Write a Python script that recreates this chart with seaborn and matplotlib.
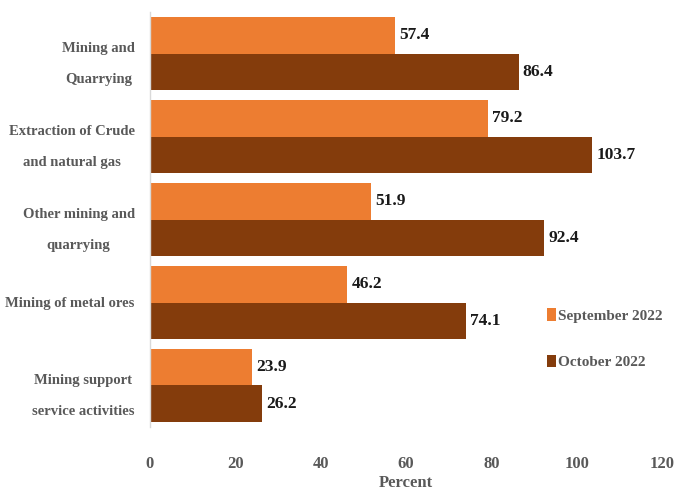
import matplotlib
matplotlib.use("Agg")
import matplotlib.pyplot as plt
import seaborn as sns
import pandas as pd

categories = ["Mining and\nQuarrying", "Extraction of Crude\nand natural gas",
              "Other mining and\nquarrying", "Mining of metal ores",
              "Mining support\nservice activities"]
sep_2022 = [57.4, 79.2, 51.9, 46.2, 23.9]
oct_2022 = [86.4, 103.7, 92.4, 74.1, 26.2]
series = ["September 2022", "October 2022"]
x_ticks = [0, 20, 40, 60, 80, 100, 120]

sns.set_theme(style="white")
plt.rcParams['font.family'] = ['Liberation Serif', 'DejaVu Serif']
plt.rcParams['font.weight'] = 'bold'

df = pd.DataFrame({
    "category": categories * 2,
    "value": sep_2022 + oct_2022,
    "series": [series[0]] * len(categories) + [series[1]] * len(categories),
})

fig = plt.figure(figsize=(6.77, 4.91), dpi=100)
ax = fig.add_axes([150 / 677, 1 - 427 / 491, 512 / 677, 415 / 491])

palette = {series[0]: "#ED7D31", series[1]: "#843C0C"}
sns.barplot(data=df, y="category", x="value", hue="series", hue_order=series,
            palette=palette, orient="h", width=0.88, gap=0, ax=ax,
            saturation=1, legend=True, linewidth=0)

for cont in ax.containers:
    ax.bar_label(cont, fmt="%.1f", padding=3, fontsize=12.5, fontweight="bold",
                 color="#1a1a1a")

ax.set_xlim(0, 120)
ax.set_ylim(4.5, -0.5)
ax.set_xticks(x_ticks)
ax.set_xticklabels([str(t) for t in x_ticks])
ax.tick_params(axis="x", length=0, pad=21, labelsize=12, labelcolor="#595959")
ax.tick_params(axis="y", length=0, pad=11, labelsize=10.5, labelcolor="#595959")
for lbl in ax.get_yticklabels():
    lbl.set_multialignment("center")
    lbl.set_linespacing(2.8)
    lbl.set_fontweight("bold")
for lbl in ax.get_xticklabels():
    lbl.set_fontweight("bold")

ax.set_ylabel("")
ax.set_xlabel("Percent", fontsize=12, fontweight="bold", color="#595959", labelpad=2)

for s in ["top", "right", "bottom"]:
    ax.spines[s].set_visible(False)
ax.spines["left"].set_color("#D9D9D9")
ax.spines["left"].set_linewidth(1.0)
ax.grid(False)

leg = ax.legend(loc="center left", bbox_to_anchor=(0.775, 0.213), frameon=False,
                borderpad=0, borderaxespad=0, handlelength=0.6, handleheight=0.9,
                handletextpad=0.15, labelspacing=2.1, fontsize=11)
for t in leg.get_texts():
    t.set_color("#595959")
    t.set_fontweight("bold")

fig.savefig("out.png", dpi=100)
